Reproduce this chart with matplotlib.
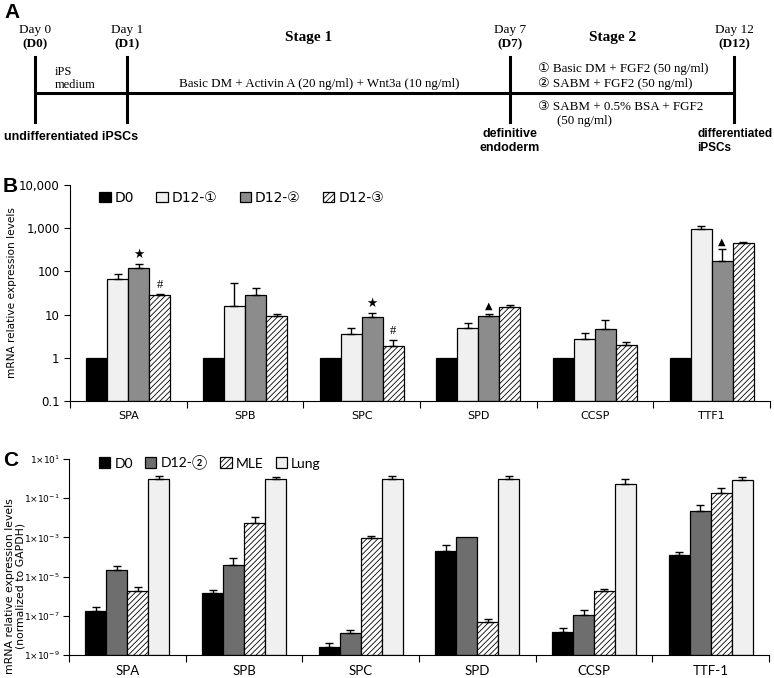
import matplotlib
matplotlib.use("Agg")
import matplotlib.pyplot as plt
import numpy as np

plt.rcParams["hatch.linewidth"] = 0.6

# ---- panel B data ----
genes_b = ["SPA", "SPB", "SPC", "SPD", "CCSP", "TTF1"]
labels_b = ["D0", "D12-\u2460", "D12-\u2461", "D12-\u2462"]
d0_b = [1, 1, 1, 1, 1, 1]
d12_1 = [67, 16, 3.5, 5.0, 2.7, 950]
d12_1_err = [21, 39, 1.5, 1.3, 1.0, 180]
d12_2 = [120, 29, 8.7, 9.3, 4.7, 173]
d12_2_err = [30, 13, 2.3, 1.1, 2.7, 150]
d12_3 = [29, 9.3, 1.9, 15, 2.0, 450]
d12_3_err = [1, 1.2, 0.7, 1.5, 0.3, 20]
# (series, gene, symbol)
marks_b = [(2, 0, "\u2605"), (3, 0, "#"), (2, 2, "\u2605"), (3, 2, "#"),
           (2, 3, "\u25b2"), (2, 5, "\u25b2")]
yticks_b = [0.1, 1, 10, 100, 1000, 10000]
yticklabels_b = ["0.1", "1", "10", "100", "1,000", "10,000"]

# ---- panel C data ----
genes_c = ["SPA", "SPB", "SPC", "SPD", "CCSP", "TTF-1"]
labels_c = ["D0", "D12-\u2461", "MLE", "Lung"]
d0_c = [1.8e-7, 1.5e-6, 2.6e-9, 2.0e-4, 1.5e-8, 1.2e-4]
d0_c_err = [1.0e-7, 0.6e-6, 1.7e-9, 2.3e-4, 0.9e-8, 0.7e-4]
d12_c = [2.2e-5, 4.0e-5, 1.3e-8, 1.07e-3, 1.1e-7, 0.023]
d12_c_err = [1.3e-5, 5.3e-5, 0.6e-8, 0, 0.9e-7, 0.022]
mle_c = [1.9e-6, 5.6e-3, 8.9e-4, 4.8e-8, 1.8e-6, 0.19]
mle_c_err = [1.1e-6, 5.4e-3, 0.3e-3, 2.2e-8, 0.6e-6, 0.14]
lung_c = [0.9, 0.9, 0.9, 0.9, 0.52, 0.89]
lung_c_err = [0.5, 0.3, 0.5, 0.4, 0.41, 0.28]
exps_c = [-9, -7, -5, -3, -1, 1]

# ---- panel A timeline ----
day_x = [35, 127, 510, 734]
day_txt = ["Day 0", "Day 1", "Day 7", "Day 12"]
day_code = ["(D0)", "(D1)", "(D7)", "(D12)"]

fig = plt.figure(figsize=(7.74, 6.78), dpi=100)

serif = ["Liberation Serif", "DejaVu Sans"]
arial = "Liberation Sans"
ax0 = fig.add_axes([0, 0, 1, 1])
ax0.set_xlim(0, 774)
ax0.set_ylim(678, 0)
ax0.axis("off")
ax0.patch.set_alpha(0)

ax0.text(4, 12, "A", family=arial, fontsize=15, fontweight="bold", va="center", ha="left")
ax0.text(3, 186, "B", family=arial, fontsize=15, fontweight="bold", va="center", ha="left")
ax0.text(3, 461, "C", family=arial, fontsize=15, fontweight="bold", va="center", ha="left")

ax0.plot([day_x[0], day_x[-1]], [93, 93], color="black", lw=2.2)
for x, t, c in zip(day_x, day_txt, day_code):
    ax0.plot([x, x], [57, 122], color="black", lw=2.2)
    ax0.text(x, 30, t, family=serif, fontsize=9.5, ha="center", va="center")
    ax0.text(x, 44, c, family=serif, fontsize=9.5, ha="center", va="center",
             fontweight="bold")
ax0.text(309, 37, "Stage 1", family=serif, fontsize=11, fontweight="bold",
         ha="center", va="center")
ax0.text(613, 37, "Stage 2", family=serif, fontsize=11, fontweight="bold",
         ha="center", va="center")
ax0.text(55, 72, "iPS", family=serif, fontsize=9, ha="left", va="center")
ax0.text(55, 85, "medium", family=serif, fontsize=9, ha="left", va="center")
ax0.text(319, 84, "Basic DM + Activin A (20 ng/ml) + Wnt3a (10 ng/ml)",
         family=serif, fontsize=9.4, ha="center", va="center")
stage2 = [("\u2460 Basic DM + FGF2 (50 ng/ml)", 538, 69),
          ("\u2461 SABM + FGF2 (50 ng/ml)", 538, 84),
          ("\u2462 SABM + 0.5% BSA + FGF2", 538, 107),
          ("(50 ng/ml)", 557, 121)]
for t, x, y in stage2:
    ax0.text(x, y, t, family=serif, fontsize=9.4, ha="left", va="center")
ax0.text(4, 137, "undifferentiated iPSCs", family=arial, fontsize=9, fontweight="bold",
         ha="left", va="center")
ax0.text(510, 134, "definitive", family=arial, fontsize=9, fontweight="bold",
         ha="center", va="center")
ax0.text(510, 148, "endoderm", family=arial, fontsize=9, fontweight="bold",
         ha="center", va="center")
ax0.text(697, 134, "differentiated", family=arial, fontsize=8.5, fontweight="bold",
         ha="left", va="center")
ax0.text(697, 148, "iPSCs", family=arial, fontsize=8.5, fontweight="bold",
         ha="left", va="center")


def style_axis(ax, ncat):
    ax.spines["top"].set_visible(False)
    ax.spines["right"].set_visible(False)
    ax.set_xlim(0, ncat)
    ax.set_xticks(np.arange(ncat + 1))
    ax.set_xticklabels([])
    ax.tick_params(axis="x", which="major", direction="out", length=5)
    ax.tick_params(axis="x", which="minor", length=0, pad=7)
    ax.tick_params(axis="y", which="major", direction="out", length=4)
    ax.tick_params(axis="y", which="minor", length=0)


w = 0.18
x = np.arange(6) + 0.5
offs = [-1.5 * w, -0.5 * w, 0.5 * w, 1.5 * w]

# ---- panel B ----
axb = fig.add_axes([70 / 774, 1 - 401 / 678, 700 / 774, 216 / 678])
axb.set_yscale("log")
axb.set_ylim(0.1, 10000)
vals_b = [d0_b, d12_1, d12_2, d12_3]
errs_b = [None, d12_1_err, d12_2_err, d12_3_err]
colors_b = ["black", "#f0f0f0", "#8c8c8c", "white"]
hatch_b = [None, None, None, "//////"]
for i in range(4):
    axb.bar(x + offs[i], np.array(vals_b[i]) - 0.1, w, bottom=0.1,
            color=colors_b[i], edgecolor="black", lw=0.9, hatch=hatch_b[i],
            label=labels_b[i], zorder=2)
    if errs_b[i] is not None:
        axb.errorbar(x + offs[i], vals_b[i],
                     yerr=[np.zeros(6), errs_b[i]], fmt="none",
                     ecolor="black", elinewidth=1, capsize=3, zorder=3)
for s, g, sym in marks_b:
    top = vals_b[s][g] + errs_b[s][g]
    axb.annotate(sym, (x[g] + offs[s], top), xytext=(0, 2),
                 textcoords="offset points", ha="center", va="bottom",
                 fontsize=9 if sym != "\u25b2" else 7,
                 family=serif if sym == "#" else None)
style_axis(axb, 6)
axb.set_yticks(yticks_b)
axb.set_yticklabels(yticklabels_b, fontsize=8.5)
axb.set_xticks(x, minor=True)
axb.set_xticklabels(genes_b, minor=True, fontsize=8)
axb.set_ylabel("mRNA relative expression levels", fontsize=7.6)
axb.yaxis.set_label_coords(-0.076, 0.5)
axb.legend(ncol=4, loc="center left", bbox_to_anchor=(0.042, 0.94),
           frameon=False, fontsize=10, handlelength=0.8, handleheight=0.8,
           handletextpad=0.3, columnspacing=1.6, borderpad=0, borderaxespad=0)

# ---- panel C ----
calib = ["Lato", "DejaVu Sans"]
axc = fig.add_axes([69 / 774, 1 - 655 / 678, 700 / 774, 196 / 678])
axc.set_yscale("log")
axc.set_ylim(1e-9, 10)
vals_c = [d0_c, d12_c, mle_c, lung_c]
errs_c = [d0_c_err, d12_c_err, mle_c_err, lung_c_err]
colors_c = ["black", "#6e6e6e", "white", "#f0f0f0"]
hatch_c = [None, None, "//////", None]
for i in range(4):
    axc.bar(x + offs[i], np.array(vals_c[i]) - 1e-9, w, bottom=1e-9,
            color=colors_c[i], edgecolor="black", lw=0.9, hatch=hatch_c[i],
            label=labels_c[i], zorder=2)
    e = np.array(errs_c[i])
    m = e > 0
    axc.errorbar((x + offs[i])[m], np.array(vals_c[i])[m],
                 yerr=[np.zeros(m.sum()), e[m]], fmt="none",
                 ecolor="black", elinewidth=1, capsize=3, zorder=3)
style_axis(axc, 6)
axc.set_yticks([10.0 ** e for e in exps_c])
axc.set_yticklabels(["1\u00d710$^{%d}$" % e for e in exps_c], fontsize=6.5)
axc.tick_params(axis="y", pad=2.5)
axc.set_xticks(x, minor=True)
axc.set_xticklabels(genes_c, minor=True, fontsize=9.5, family=calib)
axc.set_ylabel("mRNA relative expression levels\n(normalized to GAPDH)",
               fontsize=7.8, linespacing=1.1)
axc.yaxis.set_label_coords(-0.062, 0.35)
axc.legend(ncol=4, loc="center left", bbox_to_anchor=(0.043, 0.98),
           frameon=False, prop={"family": calib, "size": 10},
           handlelength=0.8, handleheight=0.8, handletextpad=0.3,
           columnspacing=0.9, borderpad=0, borderaxespad=0)

fig.savefig("out.png", dpi=100)
